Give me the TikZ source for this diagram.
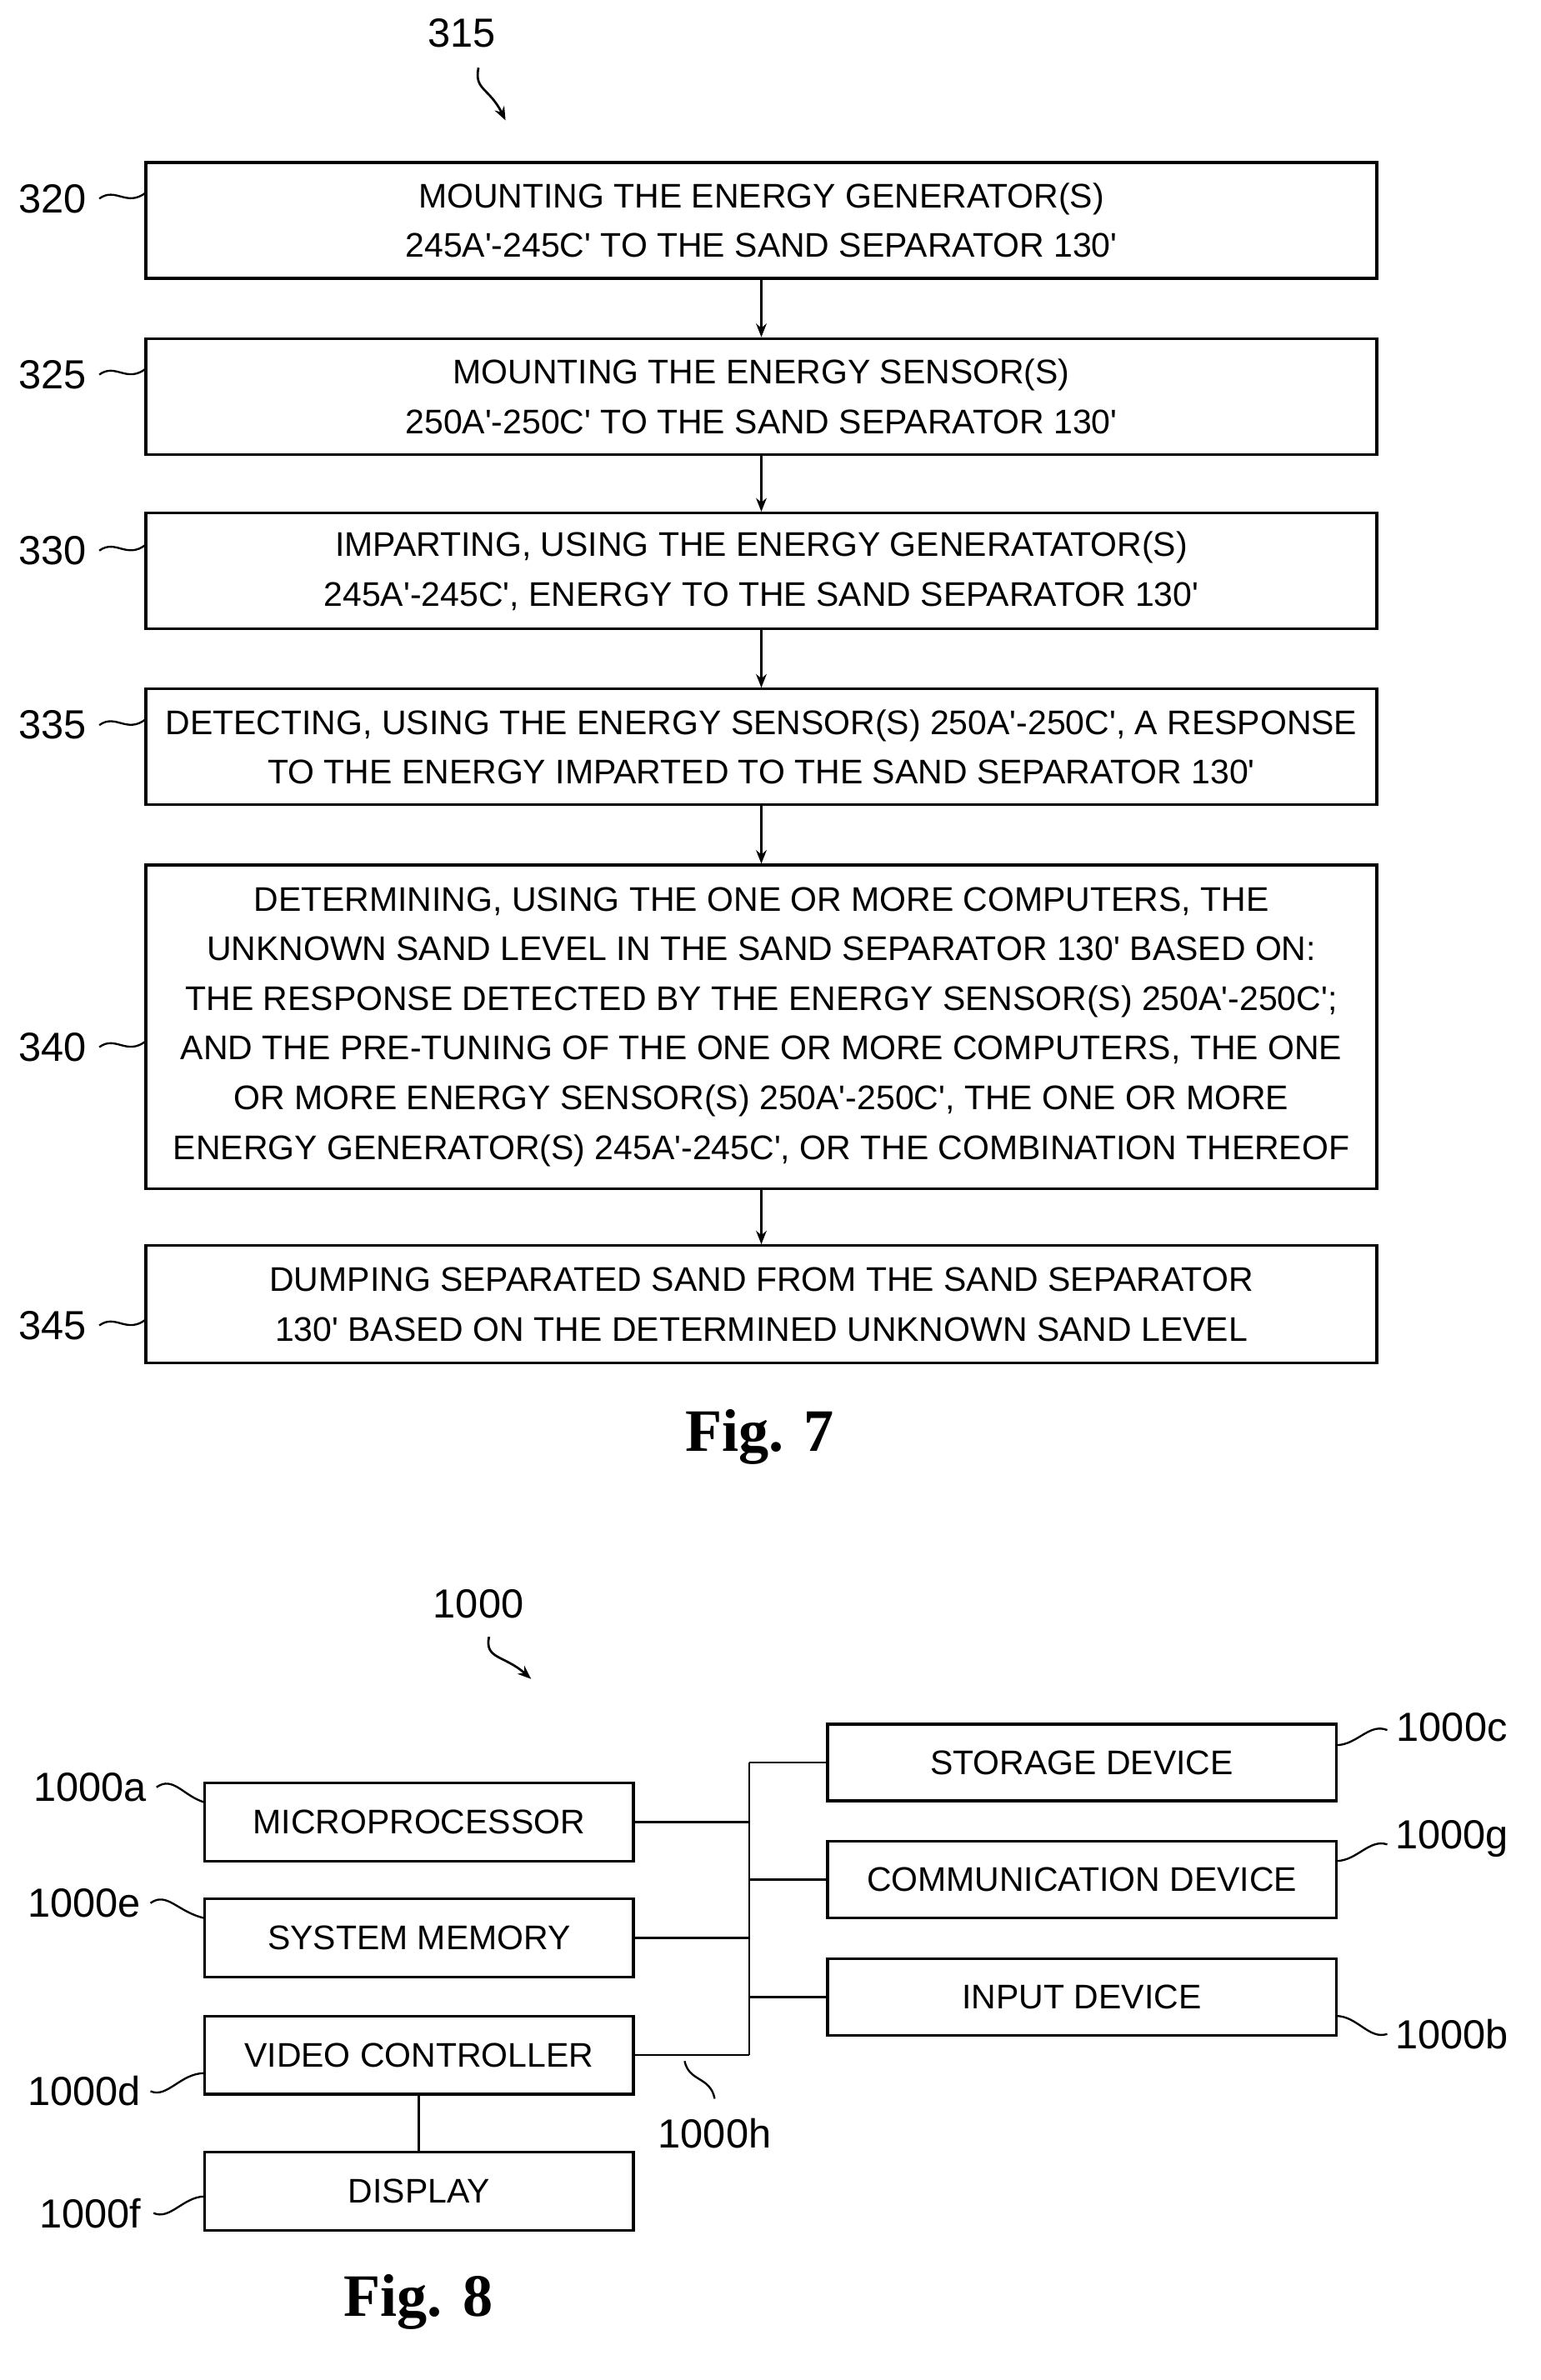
\documentclass[tikz,border=0pt]{standalone}
\usepackage{fontspec}
\setmainfont{Liberation Sans}
\newfontfamily\figfont{Liberation Serif}
\usetikzlibrary{arrows.meta}
\newcommand\p{\textquotesingle}
\begin{document}
\begin{tikzpicture}[x=1pt,y=-1pt,
 box/.style={draw,line width=1.8pt,inner sep=0pt,align=center,font=\fontsize{22.7}{33}\selectfont},
 lab/.style={font=\fontsize{27}{30}\selectfont},
 sq/.style={line width=1.3pt},
 con/.style={line width=1.5pt},
 arr/.style={line width=1.5pt,-{Stealth[length=9pt,width=7pt]}},
 fig/.style={font=\figfont\bfseries\fontsize{40}{42}\selectfont}]
\useasboundingbox (0,0) rectangle (1024,1582);
% Fig 7
\node[lab] (l315) at (307,22) {315};
\coordinate (a315) at (336,80);
\draw[arr] (318,45) .. controls (315,60) and (325,58) .. (a315);
\node[box,minimum width=818,minimum height=77] (b1) at (506,146.5) {MOUNTING THE ENERGY GENERATOR(S)\\245A\p-245C\p{} TO THE SAND SEPARATOR 130\p};
\node[box,minimum width=818,minimum height=77] (b2) at (506,263.5) {MOUNTING THE ENERGY SENSOR(S)\\250A\p-250C\p{} TO THE SAND SEPARATOR 130\p};
\node[box,minimum width=818,minimum height=77] (b3) at (506,379.5) {IMPARTING, USING THE ENERGY GENERATATOR(S)\\245A\p-245C\p, ENERGY TO THE SAND SEPARATOR 130\p};
\node[box,minimum width=818,minimum height=77] (b4) at (506,496.5) {DETECTING, USING THE ENERGY SENSOR(S) 250A\p-250C\p, A RESPONSE\\TO THE ENERGY IMPARTED TO THE SAND SEPARATOR 130\p};
\node[box,minimum width=818,minimum height=215] (b5) at (506,682.5) {DETERMINING, USING THE ONE OR MORE COMPUTERS, THE\\UNKNOWN SAND LEVEL IN THE SAND SEPARATOR 130\p{} BASED ON:\\THE RESPONSE DETECTED BY THE ENERGY SENSOR(S) 250A\p-250C\p;\\AND THE PRE-TUNING OF THE ONE OR MORE COMPUTERS, THE ONE\\OR MORE ENERGY SENSOR(S) 250A\p-250C\p, THE ONE OR MORE\\ENERGY GENERATOR(S) 245A\p-245C\p, OR THE COMBINATION THEREOF};
\node[box,minimum width=818,minimum height=78] (b6) at (506,867) {DUMPING SEPARATED SAND FROM THE SAND SEPARATOR\\130\p{} BASED ON THE DETERMINED UNKNOWN SAND LEVEL};
\foreach \a/\b in {b1/b2,b2/b3,b3/b4,b4/b5,b5/b6} \draw[arr] (\a.south) -- (\b.north);
\foreach \n/\y/\t in {l320/132/320,l325/249/325,l330/366/330,l335/482/335,l340/696/340,l345/881/345}{
 \node[lab] (\n) at (35,\y) {\t};
 \draw[sq] (66,\y) .. controls (77,\y-8) and (84,\y+6) .. (97,\y-4);}
\node[fig] (f7) at (505,955) {Fig. 7};
% Fig 8
\node[lab] (l1000) at (318,1066) {1000};
\coordinate (a1000) at (353,1116);
\draw[arr] (325,1088) .. controls (322,1103) and (335,1100) .. (a1000);
\tikzset{sb/.style={box,minimum width=285,minimum height=52},rb/.style={box,minimum width=338,minimum height=51}}
\node[sb] (mp) at (278.5,1211) {MICROPROCESSOR};
\node[sb] (sm) at (278.5,1288) {SYSTEM MEMORY};
\node[sb] (vc) at (278.5,1366) {VIDEO CONTROLLER};
\node[sb] (dp) at (278.5,1456.5) {DISPLAY};
\node[rb] (sd) at (719,1171.5) {STORAGE DEVICE};
\node[rb] (cd) at (719,1249.5) {COMMUNICATION DEVICE};
\node[rb] (id) at (719,1327.5) {INPUT DEVICE};
\coordinate (bt) at (498,1171.5);
\coordinate (bb) at (498,1366);
\draw[con] (bt) -- (bb);
\draw[con] (mp.east) -- (mp.east -| bt);
\draw[con] (sm.east) -- (sm.east -| bt);
\draw[con] (vc.east) -- (bb);
\draw[con] (bt) -- (sd.west);
\draw[con] (cd.west -| bt) -- (cd.west);
\draw[con] (id.west -| bt) -- (id.west);
\draw[con] (vc.south) -- (dp.north);
\node[lab] (l1a) at (60,1188) {1000a};
\draw[sq] (104,1188) .. controls (115,1180) and (122,1194) .. (136,1198);
\node[lab] (l1e) at (56,1265) {1000e};
\draw[sq] (100,1265) .. controls (111,1257) and (118,1271) .. (136,1275);
\node[lab] (l1d) at (56,1390) {1000d};
\draw[sq] (100,1390) .. controls (111,1395) and (120,1378) .. (136,1378);
\node[lab] (l1f) at (60,1471) {1000f};
\draw[sq] (102,1471) .. controls (113,1476) and (122,1460) .. (136,1460);
\node[lab] (l1c) at (965,1148) {1000c};
\draw[sq] (888,1160) .. controls (902,1160) and (910,1145) .. (922,1150);
\node[lab] (l1g) at (965,1222) {1000g};
\draw[sq] (888,1237) .. controls (902,1237) and (910,1222) .. (922,1226);
\node[lab] (l1b) at (965,1352) {1000b};
\draw[sq] (888,1340) .. controls (902,1340) and (910,1356) .. (922,1352);
\node[lab] (l1h) at (475,1418) {1000h};
\draw[sq] (455,1370) .. controls (458,1384) and (472,1380) .. (475,1395);
\node[fig] (f8) at (278,1530) {Fig. 8};
\end{tikzpicture}
\end{document}
